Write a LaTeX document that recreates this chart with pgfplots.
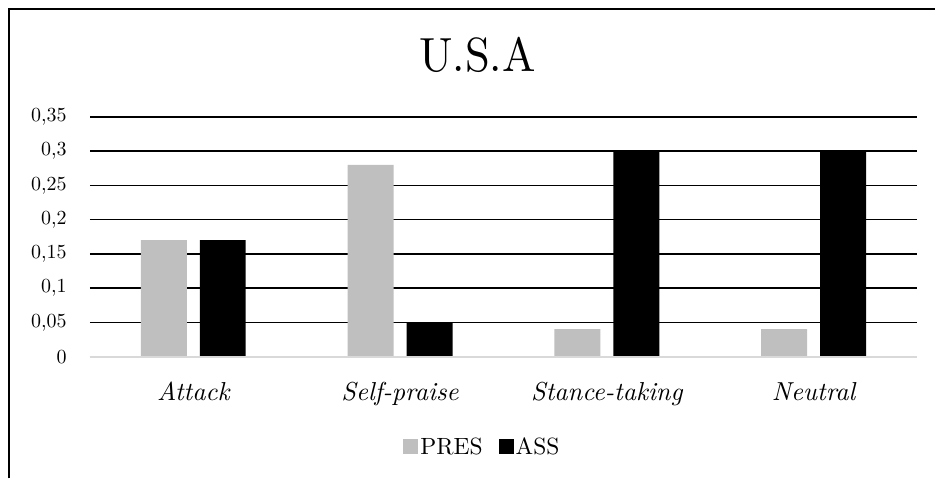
\documentclass[border=0pt]{standalone}
\usepackage{fontspec}
\setmainfont{lmroman10-regular.otf}[ItalicFont=lmroman10-italic.otf, BoldFont=lmroman10-bold.otf]
\usepackage{graphicx}
\usepackage{pgfplots}
\pgfplotsset{compat=1.18}
\definecolor{presgray}{HTML}{BFBFBF}
\definecolor{axisgray}{HTML}{D9D9D9}
\begin{document}
\begin{tikzpicture}[x=1pt,y=1pt]
\path (0,0) rectangle (936,479);
\draw[line width=2pt] (9,0) -- (9,470) -- (936,470);
\node[anchor=base, inner sep=0pt] at (478,407) {\fontsize{48}{48}\selectfont\scalebox{0.93}[1]{U.S.A}};
\begin{axis}[
  at={(90pt,122pt)}, anchor=south west,
  width=828pt, height=240pt, scale only axis,
  xmin=-0.5, xmax=3.5, ymin=0, ymax=0.35,
  ytick={0,0.05,0.1,0.15,0.2,0.25,0.3,0.35},
  yticklabels={0,{0,05},{0,1},{0,15},{0,2},{0,25},{0,3},{0,35}},
  xtick={0,1,2,3},
  xticklabels={Attack,Self-praise,Stance-taking,Neutral},
  ymajorgrids, grid style={black, line width=1.6pt},
  axis line style={draw=none},
  major tick length=0pt,
  yticklabel style={font=\fontsize{20}{20}\selectfont, anchor=east, inner sep=0pt, xshift=-23pt},
  xticklabel style={font=\fontsize{26}{26}\selectfont\itshape, anchor=base, inner sep=0pt, yshift=-44pt},
  ybar, bar width=46pt,
  clip=false,
  legend style={at={(0.4746,-0.375)}, anchor=center, draw=none, fill=none,
    font=\fontsize{23.5}{23.5}\selectfont, legend columns=2,
    /tikz/every even column/.append style={column sep=14pt}},
  legend image code/.code={\fill[#1] (0pt,-7.5pt) rectangle (15pt,7.5pt);},
]
\addplot[fill=presgray, draw=none, bar shift=-29.5pt] coordinates {(0,0.17) (1,0.28) (2,0.04) (3,0.04)};
\addplot[fill=black, draw=none, bar shift=29.5pt] coordinates {(0,0.17) (1,0.05) (2,0.30) (3,0.30)};
\legend{PRES,ASS}
\draw[axisgray, line width=2pt] (axis cs:-0.5,0) -- (axis cs:3.5,0);
\end{axis}
\end{tikzpicture}
\end{document}
